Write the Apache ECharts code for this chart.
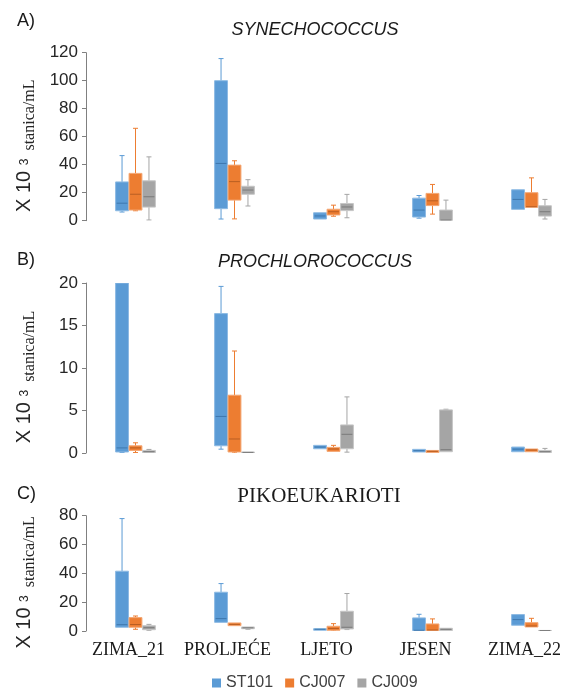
<!DOCTYPE html>
<html>
<head>
<meta charset="utf-8">
<script src="https://cdn.jsdelivr.net/npm/echarts@6/dist/echarts.min.js"></script>
<style>
html,body{margin:0;padding:0;background:#fff;}
#chart{width:581px;height:689px;}
</style>
</head>
<body>
<div id="chart"></div>
<script>
// ---- data ----
const categories = ['ZIMA_21', 'PROLJEĆE', 'LJETO', 'JESEN', 'ZIMA_22'];
const stations = ['ST101', 'CJ007', 'CJ009'];
const panelTitles = ['SYNECHOCOCCUS', 'PROCHLOROCOCCUS', 'PIKOEUKARIOTI'];
const panelLetters = ['A)', 'B)', 'C)'];
const yMaxes = [120, 20, 80];
const yIntervals = [20, 5, 20];

// each row: [min, q1, median, q3, max] per season
const synST101 = [[6.2, 7.1, 12.5, 27.7, 46.5], [1.2, 8.6, 40.9, 100, 115.8], [1.2, 1.2, 3.4, 5.7, 5.7], [1.8, 2.6, 7.6, 16.1, 18], [8.1, 8.1, 15.2, 22.1, 22.1]];
const synCJ007 = [[7.1, 7.6, 18.9, 33.8, 66], [1.3, 14.7, 27.9, 39.7, 42.8], [3.2, 4.1, 6.4, 8.2, 11.1], [4.7, 10.8, 14.2, 19.5, 25.9], [9.3, 9.6, 10, 20, 30.6]];
const synCJ009 = [[0.5, 9.7, 17.1, 28.5, 45.6], [10.5, 18.9, 21.9, 24.6, 29.3], [2.1, 7.2, 9.8, 12.3, 18.8], [0, 0.2, 0.5, 7.6, 14.7], [1.2, 3.3, 6.4, 10.7, 15.2]];

const proST101 = [[0.05, 0.12, 0.6, 20, 20], [0.45, 0.85, 4.3, 16.4, 19.6], [0.5, 0.5, 0.7, 0.9, 0.9], [0.12, 0.12, 0.27, 0.43, 0.43], [0.15, 0.15, 0.45, 0.7, 0.7]];
const proCJ007 = [[0.05, 0.3, 0.6, 0.85, 1.2], [0.02, 0.12, 1.65, 6.8, 12], [0.15, 0.19, 0.47, 0.66, 0.9], [0.05, 0.05, 0.2, 0.3, 0.3], [0.15, 0.15, 0.35, 0.47, 0.47]];
const proCJ009 = [[0.02, 0.05, 0.15, 0.3, 0.42], [0.02, 0.03, 0.07, 0.12, 0.12], [0.1, 0.5, 2.2, 3.3, 6.6], [0.1, 0.15, 0.39, 5.07, 5.15], [0.03, 0.05, 0.15, 0.3, 0.54]];

const pikST101 = [[2.3, 2.6, 4.4, 41.5, 78], [5.8, 6, 8.6, 26.9, 32.9], [0.8, 0.8, 1.2, 1.6, 1.6], [0.3, 0.3, 0.5, 9.1, 11.6], [4, 4, 7.9, 11.4, 11.4]];
const pikCJ007 = [[1.2, 2.6, 4.5, 9.3, 10.4], [3.6, 3.7, 4.6, 5.6, 5.8], [0, 0.5, 1.7, 3.3, 5.1], [0.3, 0.3, 0.7, 4.9, 8.4], [2.8, 2.8, 3.5, 5.8, 8.8]];
const pikCJ009 = [[0.5, 0.9, 2.3, 3.7, 4.6], [1.2, 1.6, 2.2, 2.8, 2.8], [1, 1.4, 2.6, 13.7, 26], [0.3, 0.3, 1.2, 1.9, 1.9], [0.3, 0.3, 0.3, 0.4, 0.4]];

const panelData = [
  [synST101, synCJ007, synCJ009],
  [proST101, proCJ007, proCJ009],
  [pikST101, pikCJ007, pikCJ009]
];

// ---- styles ----
const fillColors = ['#5B9BD5', '#ED7D31', '#A5A5A5'];
const edgeColors = ['#8DBAE3', '#F3A774', '#C6C6C6'];
const medianColors = ['#3F78AE', '#B95E22', '#7A7A7A'];
const grids = [
  { top: 52.7, height: 168 },
  { top: 283, height: 170 },
  { top: 515.7, height: 115.3 }
];
const letterTops = [7, 246, 480];
const titleTops = [16, 248, 481];
const sans = 'Liberation Sans, Arial, sans-serif';
const serif = 'Liberation Serif, Times New Roman, serif';

function makeSeries(panel, st) {
  const rows = panelData[panel][st];
  return {
    type: 'custom',
    name: stations[st],
    xAxisIndex: panel,
    yAxisIndex: panel,
    itemStyle: { color: fillColors[st] },
    data: rows.map((r, i) => [i].concat(r)),
    encode: { x: 0, y: [1, 2, 3, 4, 5] },
    clip: true,
    renderItem: function (params, api) {
      const ci = api.value(0);
      const band = api.size([1, 0])[0];
      const cx = api.coord([ci, 0])[0] + (st - 1) * band * 0.136;
      const hw = band * 0.13 / 2;
      const yv = k => api.coord([ci, api.value(k)])[1];
      const yMin = yv(1), yQ1 = yv(2), yMed = yv(3), yQ3 = yv(4), yMax = yv(5);
      const wStyle = { stroke: fillColors[st], lineWidth: 1 };
      const children = [];
      if (yMax < yQ3 - 0.5) {
        children.push({ type: 'line', shape: { x1: cx, y1: yQ3, x2: cx, y2: yMax }, style: wStyle });
        children.push({ type: 'line', shape: { x1: cx - 2.5, y1: yMax, x2: cx + 2.5, y2: yMax }, style: wStyle });
      }
      if (yMin > yQ1 + 0.5) {
        children.push({ type: 'line', shape: { x1: cx, y1: yQ1, x2: cx, y2: yMin }, style: wStyle });
        children.push({ type: 'line', shape: { x1: cx - 2.5, y1: yMin, x2: cx + 2.5, y2: yMin }, style: wStyle });
      }
      children.push({
        type: 'rect',
        shape: { x: cx - hw, y: yQ3, width: hw * 2, height: Math.max(yQ1 - yQ3, 1.5) },
        style: { fill: fillColors[st], stroke: edgeColors[st], lineWidth: 1 }
      });
      children.push({
        type: 'line',
        shape: { x1: cx - hw + 1, y1: yMed, x2: cx + hw - 1, y2: yMed },
        style: { stroke: medianColors[st], lineWidth: 1 }
      });
      return { type: 'group', children: children };
    }
  };
}

const series = [];
for (let p = 0; p < 3; p++) for (let s = 0; s < 3; s++) series.push(makeSeries(p, s));

const axisNameRich = {
  a: { fontFamily: sans, fontSize: 20, color: '#262626', verticalAlign: 'bottom', padding: [0, 0, 4, 0] },
  b: { fontFamily: sans, fontSize: 12, color: '#262626', verticalAlign: 'bottom', padding: [0, 0, 7, 0] },
  c: { fontFamily: serif, fontSize: 16, color: '#262626', verticalAlign: 'bottom', padding: [0, 18, 0, 0] }
};

const option = {
  animation: false,
  backgroundColor: '#ffffff',
  title: [0, 1, 2].map(p => [
    {
      text: panelLetters[p], left: 12, top: letterTops[p],
      textStyle: { fontFamily: sans, fontSize: 18, fontWeight: 'normal', color: '#1a1a1a' }
    },
    {
      text: panelTitles[p], left: p === 2 ? 314 : 310, textAlign: 'center',
      top: titleTops[p],
      textStyle: p === 2
        ? { fontFamily: serif, fontSize: 21, fontWeight: 'normal', color: '#1a1a1a' }
        : { fontFamily: sans, fontSize: 18, fontStyle: 'italic', fontWeight: 'normal', color: '#1a1a1a' }
    }
  ]).flat(),
  legend: {
    data: stations,
    top: 670,
    left: 207,
    icon: 'rect',
    itemWidth: 9,
    itemHeight: 9,
    itemGap: 12,
    textStyle: { fontFamily: sans, fontSize: 16, color: '#404040' }
  },
  grid: grids.map(g => ({ left: 86, right: -19, top: g.top, height: g.height })),
  xAxis: [0, 1, 2].map(p => ({
    type: 'category',
    gridIndex: p,
    data: categories,
    boundaryGap: true,
    axisLine: { show: false },
    axisTick: { show: false },
    axisLabel: {
      show: p === 2,
      interval: 0,
      hideOverlap: false,
      fontFamily: serif,
      fontSize: 18,
      color: '#1a1a1a',
      margin: 10,
      padding: [0, 14, 0, 0]
    },
    splitLine: { show: false }
  })),
  yAxis: [0, 1, 2].map(p => ({
    type: 'value',
    gridIndex: p,
    min: 0,
    max: yMaxes[p],
    interval: yIntervals[p],
    axisLine: { show: true, lineStyle: { color: '#808080', width: 1 } },
    axisTick: { show: true, length: 4, lineStyle: { color: '#808080' } },
    axisLabel: { fontFamily: sans, fontSize: 17, color: '#262626', margin: 8 },
    splitLine: { show: false },
    name: '{a|X 10 }{b|3}{c|  stanica/mL}',
    nameLocation: 'middle',
    nameGap: 48,
    nameTextStyle: { rich: axisNameRich }
  })),
  series: series
};

const chart = echarts.init(document.getElementById('chart'), null, { renderer: 'canvas' });
chart.setOption(option);
</script>
</body>
</html>
